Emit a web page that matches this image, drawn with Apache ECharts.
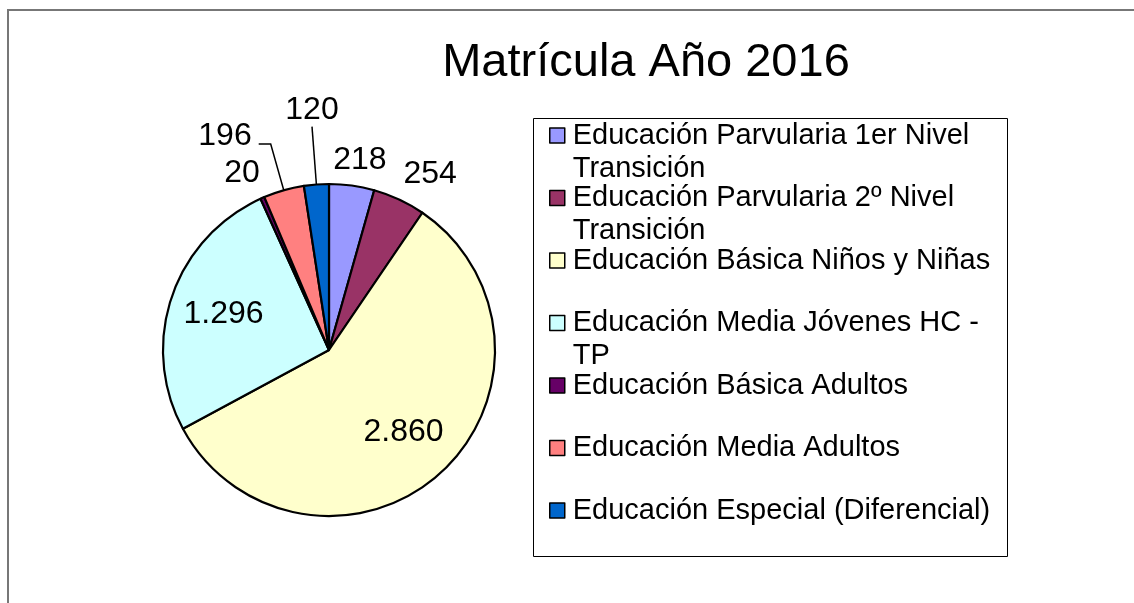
<!DOCTYPE html>
<html lang="es">
<head>
    <meta charset="UTF-8">
    <title>Matrícula Año 2016</title>
    <script src="https://cdn.jsdelivr.net/npm/echarts@6/dist/echarts.min.js"></script>
    <style>
        html, body { margin: 0; padding: 0; background: #fff; }
        #main { width: 1134px; height: 603px; }
    </style>
</head>
<body>
<div id="main"></div>
<script>
    // datos
    var categories = [
        'Educación Parvularia 1er Nivel Transición',
        'Educación Parvularia 2º Nivel Transición',
        'Educación Básica Niños y Niñas',
        'Educación Media Jóvenes HC - TP',
        'Educación Básica Adultos',
        'Educación Media Adultos',
        'Educación Especial (Diferencial)'
    ];
    var values = [218, 254, 2860, 1296, 20, 196, 120];

    // estilo
    var colors = ['#9999FF', '#993366', '#FFFFCC', '#CCFFFF', '#660066', '#FF8080', '#0066CC'];
    var FONT = '"Liberation Sans", Arial, sans-serif';
    var CENTER = [329, 350];
    var RADIUS = 166;
    var LINE_H = 33;
    // etiquetas con linea guia (indice -> largo)
    var leaders = {5: {length: 48, length2: 12}, 6: {length: 58, length2: 0}};

    var total = values.reduce(function (a, b) { return a + b; }, 0);

    function fmt(v) {
        return String(v).replace(/\B(?=(\d{3})+(?!\d))/g, '.');
    }

    var pieData = categories.map(function (name, i) {
        var item = {name: name, value: values[i], itemStyle: {color: colors[i]}};
        if (leaders[i]) {
            item.label = {position: 'outside'};
            item.labelLine = {
                show: true,
                length: leaders[i].length,
                length2: leaders[i].length2,
                lineStyle: {color: '#000', width: 1.5}
            };
        }
        return item;
    });

    var myChart = echarts.init(document.getElementById('main'), null, {renderer: 'canvas'});

    var option = {
        animation: false,
        textStyle: {fontFamily: FONT},
        title: {
            text: 'Matrícula Año 2016',
            left: 646,
            top: 40,
            padding: 0,
            textAlign: 'center',
            textStyle: {fontSize: 47, fontWeight: 'normal', color: '#000', fontFamily: FONT, lineHeight: 47}
        },
        legend: {
            orient: 'vertical',
            left: 549,
            top: 86,
            padding: 0,
            itemGap: 62.5 - 3 * LINE_H,
            itemWidth: 15,
            itemHeight: 15,
            icon: 'rect',
            selectedMode: false,
            itemStyle: {borderColor: '#000', borderWidth: 1.5},
            formatter: function (name) {
                var lines = name.replace(/ (Transición|TP)$/, '\n$1').split('\n');
                if (lines.length < 2) lines.push(' ');
                return ' \n' + lines.join('\n');
            },
            textStyle: {
                fontSize: 29,
                color: '#000',
                fontFamily: FONT,
                lineHeight: LINE_H,
                backgroundColor: 'rgba(0,0,0,0)',
                padding: [0, 0, 0, 3]
            },
            data: categories
        },
        graphic: [
            {
                type: 'rect',
                silent: true,
                shape: {x: 8, y: 10, width: 1140, height: 610},
                style: {fill: 'none', stroke: '#777', lineWidth: 2}
            },
            {
                type: 'rect',
                silent: true,
                shape: {x: 533.5, y: 118.5, width: 474, height: 438},
                style: {fill: 'none', stroke: '#000', lineWidth: 1}
            }
        ],
        series: [{
            type: 'pie',
            center: CENTER,
            radius: RADIUS,
            startAngle: 90,
            clockwise: true,
            avoidLabelOverlap: false,
            emphasis: {disabled: true},
            itemStyle: {borderColor: '#000', borderWidth: 2.2},
            label: {
                show: true,
                position: 'inside',
                fontSize: 32,
                color: '#000',
                fontFamily: FONT,
                textBorderWidth: 0,
                formatter: function (p) { return fmt(p.value); }
            },
            labelLine: {show: false},
            labelLayout: function (p) {
                var pts = p.labelLinePoints;
                if (leaders[p.dataIndex] && pts) {
                    var p2 = pts[1], p3 = pts[2];
                    if (Math.abs(p3[0] - p2[0]) < 0.5) {
                        return {x: p3[0], y: p3[1], align: 'center', verticalAlign: 'bottom', labelLinePoints: pts};
                    }
                    return {x: p3[0] - 7, y: p3[1] - 8, align: 'right', verticalAlign: 'middle', labelLinePoints: pts};
                }
                var r = p.labelRect;
                var dx = r.x + r.width / 2 - CENTER[0];
                var dy = r.y + r.height / 2 - CENTER[1];
                var len = Math.sqrt(dx * dx + dy * dy);
                dx /= len; dy /= len;
                if (values[p.dataIndex] / total > 0.15) {
                    return {
                        x: CENTER[0] + dx * RADIUS * 0.67,
                        y: CENTER[1] + dy * RADIUS * 0.67,
                        align: 'center', verticalAlign: 'middle'
                    };
                }
                // etiqueta fuera del borde, anclada en el contorno de la caja
                var phi = Math.atan2(dx, -dy) * 1.8;
                var sx = Math.sin(phi), sy = -Math.cos(phi);
                var m = Math.max(Math.abs(sx), Math.abs(sy));
                var dist = RADIUS + 10;
                return {
                    x: CENTER[0] + dx * dist + r.width / 2 * sx / m,
                    y: CENTER[1] + dy * dist + r.height / 2 * sy / m,
                    align: 'center', verticalAlign: 'middle'
                };
            },
            data: pieData
        }]
    };

    myChart.setOption(option);
</script>
</body>
</html>
